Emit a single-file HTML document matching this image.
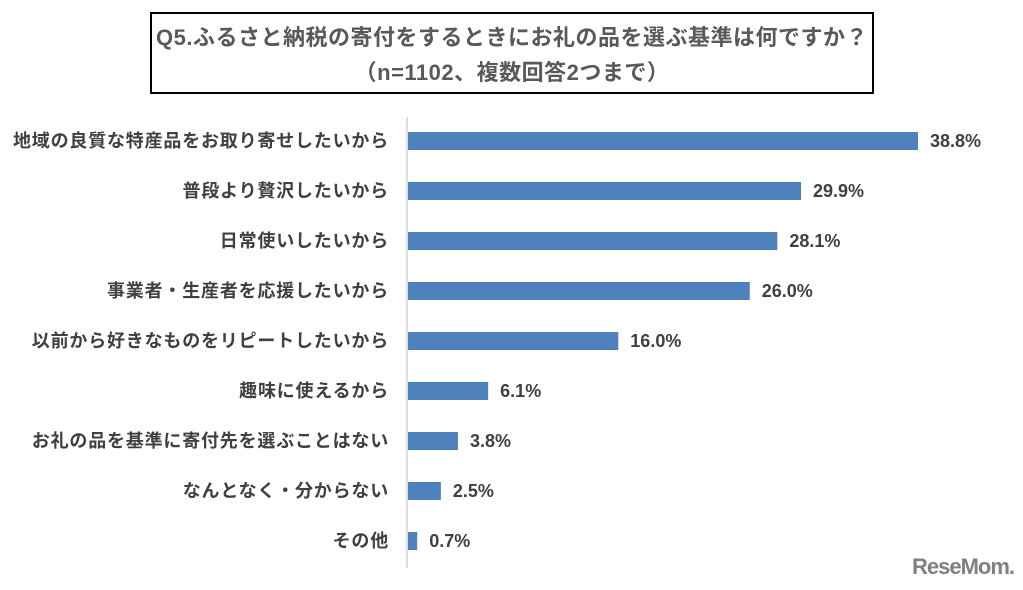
<!DOCTYPE html>
<html><head><meta charset="utf-8"><style>
body{margin:0;width:1023px;height:590px;background:#fff;overflow:hidden;font-family:"Liberation Sans","Noto Sans CJK JP",sans-serif;}
#title{position:absolute;left:150px;top:12px;width:720px;height:72px;border:2px solid #000;color:#595959;font-weight:bold;font-size:22px;letter-spacing:0.5px;text-align:center;line-height:35px;padding-top:6px;box-sizing:content-box;white-space:nowrap;}
#logo{position:absolute;left:912px;top:554px;font-size:22px;font-weight:bold;color:#808080;letter-spacing:-1px;}
</style></head><body>
<div id="title">Q5.ふるさと納税の寄付をするときにお礼の品を選ぶ基準は何ですか？<br>（n=1102、複数回答2つまで）</div>
<svg id="chart" width="1023" height="590" style="position:absolute;left:0;top:0"></svg>
<div id="logo">ReseMom.</div>
<script>
const categories=["地域の良質な特産品をお取り寄せしたいから","普段より贅沢したいから","日常使いしたいから","事業者・生産者を応援したいから","以前から好きなものをリピートしたいから","趣味に使えるから","お礼の品を基準に寄付先を選ぶことはない","なんとなく・分からない","その他"];
const values=[38.8,29.9,28.1,26.0,16.0,6.1,3.8,2.5,0.7];
const valueLabels=["38.8%","29.9%","28.1%","26.0%","16.0%","6.1%","3.8%","2.5%","0.7%"];
const svg=document.getElementById('chart');
const NS='http://www.w3.org/2000/svg';
const x0=408,scale=(918-408)/38.8;
function xs(v){return x0+v*scale;}
function yc(i){return 141+i*50;}
const axis=document.createElementNS(NS,'line');
axis.setAttribute('x1',407);axis.setAttribute('x2',407);axis.setAttribute('y1',117);axis.setAttribute('y2',568);
axis.setAttribute('stroke','#bfbfbf');axis.setAttribute('stroke-width',1);


svg.appendChild(axis);
categories.forEach((c,i)=>{
  const r=document.createElementNS(NS,'rect');
  r.setAttribute('x',x0);r.setAttribute('y',yc(i)-9);r.setAttribute('width',xs(values[i])-x0);r.setAttribute('height',18);r.setAttribute('fill','#4f81bd');
  
  
  svg.appendChild(r);
  const t=document.createElementNS(NS,'text');
  t.setAttribute('x',389);t.setAttribute('y',yc(i)+6);t.setAttribute('text-anchor','end');
  t.setAttribute('font-size','18');t.setAttribute('font-weight','bold');t.setAttribute('fill','#404040');
  t.setAttribute('letter-spacing','0.8');
  t.textContent=c;
  
  
  svg.appendChild(t);
  const v=document.createElementNS(NS,'text');
  v.setAttribute('x',xs(values[i])+12);v.setAttribute('y',yc(i)+6);
  v.setAttribute('font-size','18');v.setAttribute('font-weight','bold');v.setAttribute('fill','#404040');
  v.textContent=valueLabels[i];
  
  
  svg.appendChild(v);
});
</script>
</body></html>
